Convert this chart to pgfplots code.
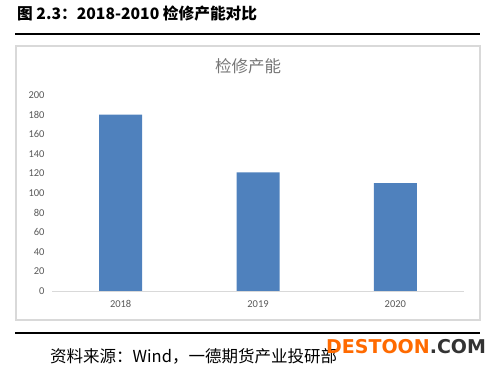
\documentclass[border=0pt]{standalone}
\usepackage{pgfplots}
\pgfplotsset{compat=1.18}
\usepackage{fontspec}
\setmainfont{Carlito}
\newfontfamily\cjk{Noto Sans CJK SC}
\newfontfamily\wm{DejaVu Sans}
\definecolor{barblue}{HTML}{4F81BD}
\definecolor{ticgray}{HTML}{595959}
\definecolor{titlegray}{HTML}{767676}
\definecolor{framegray}{HTML}{D9D9D9}
\definecolor{wmorange}{HTML}{FF6A00}
\definecolor{wmdark}{HTML}{333333}
\begin{document}
\begin{tikzpicture}[x=1pt,y=1pt]
\path[use as bounding box] (0,0) rectangle (497,-369);
\node[anchor=west, inner sep=0pt, font=\cjk\bfseries\fontsize{15.7}{18}\selectfont] at (17,-14) {图 2.3：2018-2010 检修产能对比};
\draw[line width=2pt] (15,-34) -- (480,-34);
\draw[line width=1.2pt, color=framegray] (16,-46) rectangle (480,-320);
\draw[line width=2pt] (15,-333) -- (480,-333);
\node[anchor=west, inner sep=0pt, font=\cjk\fontsize{16.5}{18}\selectfont] at (50,-356) {资料来源：Wind，一德期货产业投研部};
\node[anchor=west, inner sep=0pt, font=\wm\bfseries\fontsize{19}{21}\selectfont] at (326,-347) {\textcolor{wmorange}{DESTOON}\textcolor{wmdark}{.COM}};
\node[font=\cjk\fontsize{16.5}{18}\selectfont, text=titlegray] at (248,-66) {检修产能};
\begin{axis}[
  at={(52pt,-291pt)}, anchor=south west,
  scale only axis, width=412pt, height=196pt,
  xmin=-0.5, xmax=2.5, ymin=0, ymax=200,
  ytick={0,20,...,200},
  xtick={0,1,2}, xticklabels={2018,2019,2020},
  axis line style={draw=none},
  tick style={draw=none},
  /pgf/number format/assume math mode=true,
  yticklabel style={font=\fontsize{10.5}{12}\selectfont, text=ticgray, xshift=-4pt},
  xticklabel style={font=\fontsize{10.5}{12}\selectfont, text=ticgray, yshift=-2pt},
  ybar, bar width=43pt,
  clip=false,
]
\addplot[fill=barblue, draw=none] coordinates {(0,180) (1,121) (2,110)};
\draw[color=framegray, line width=0.8pt] (axis cs:-0.5,0) -- (axis cs:2.5,0);
\end{axis}
\end{tikzpicture}
\end{document}
